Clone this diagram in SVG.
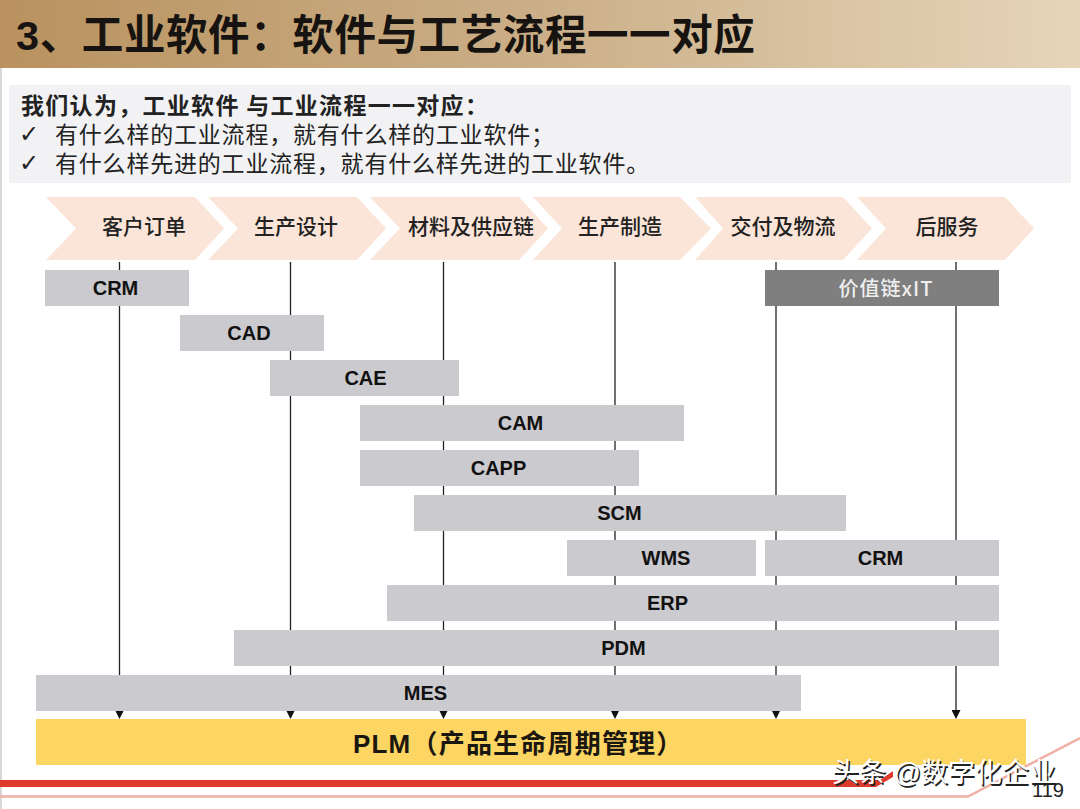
<svg xmlns="http://www.w3.org/2000/svg" width="1080" height="809" viewBox="0 0 1080 809">
<style>
.cjk{font-family:"Liberation Sans","Noto Sans CJK SC",sans-serif}
.bar{fill:#cbcace}
.chev{fill:#fbe5d8}
.bt{font-family:"Liberation Sans","Noto Sans CJK SC",sans-serif;font-size:20px;font-weight:700;fill:#111;text-anchor:middle}
.ct{font-family:"Noto Sans CJK SC",sans-serif;font-size:21px;font-weight:500;fill:#222;text-anchor:middle}
.ln{stroke:#222;stroke-width:1.3;fill:none;marker-end:url(#ah)}
.p{font-family:"Noto Sans CJK SC",sans-serif;font-size:23px;letter-spacing:0.8px;fill:#222}
.ck{font-family:"DejaVu Sans",sans-serif;font-size:24px;fill:#222}
</style>
<defs>
<linearGradient id="hg" x1="0" x2="1" y1="0" y2="0"><stop offset="0" stop-color="#b9925f"/><stop offset="0.5" stop-color="#cbaf88"/><stop offset="1" stop-color="#e6d5b9"/></linearGradient>
<marker id="ah" markerUnits="userSpaceOnUse" markerWidth="9" markerHeight="9" refX="4.500" refY="6" orient="0" viewBox="0 0 9 9"><path d="M0 0H9L4.500 9Z" fill="#111"/></marker>
</defs>
<rect width="1080" height="809" fill="#fff"/>
<rect x="0" y="0" width="2" height="809" fill="#d8d8d8"/>
<g id="header">
<rect x="0" y="0" width="1080" height="68" fill="url(#hg)"/>
<text x="16" y="50" class="cjk" font-size="41.500" font-weight="700" letter-spacing="0.6" fill="#161310">3、工业软件：软件与工艺流程一一对应</text>
</g>
<g id="intro">
<rect x="9" y="85" width="1062" height="98" fill="#f2f2f4"/>
<text x="21" y="114" class="p" style="font-weight:700;letter-spacing:1.3px">我们认为，工业软件 与工业流程一一对应：</text>
<text x="19" y="142" class="ck">✓</text><text x="55" y="143" class="p">有什么样的工业流程，就有什么样的工业软件；</text>
<text x="19" y="171" class="ck">✓</text><text x="55" y="172" class="p">有什么样先进的工业流程，就有什么样先进的工业软件。</text>
</g>
<g id="connectors">
<path class="ln" d="M119.500 262V716"/>
<path class="ln" d="M290.500 262V716"/>
<path class="ln" d="M443.500 262V716"/>
<path class="ln" d="M615 262V716"/>
<path class="ln" d="M776 262V716"/>
<path class="ln" d="M956 262V716"/>
</g>
<g id="step-1"><path class="chev" d="M46 197H195L224 228.500L195 260H46L76 228.500Z"/><text class="ct" x="144" y="234">客户订单</text></g>
<g id="step-2"><path class="chev" d="M208 197H357L386 228.500L357 260H208L238 228.500Z"/><text class="ct" x="296" y="234">生产设计</text></g>
<g id="step-3"><path class="chev" d="M370 197H519L548 228.500L519 260H370L400 228.500Z"/><text class="ct" x="471" y="234">材料及供应链</text></g>
<g id="step-4"><path class="chev" d="M533 197H680L711 228.500L680 260H533L562 228.500Z"/><text class="ct" x="620" y="234">生产制造</text></g>
<g id="step-5"><path class="chev" d="M695 197H843L872 228.500L843 260H695L723 228.500Z"/><text class="ct" x="783" y="234">交付及物流</text></g>
<g id="step-6"><path class="chev" d="M857 197H1005L1034 228.500L1005 260H857L886 228.500Z"/><text class="ct" x="947" y="234">后服务</text></g>
<g id="crm-1"><rect class="bar" x="45" y="270" width="144" height="36"/><text class="bt" x="115.500" y="295">CRM</text></g>
<g id="value-it"><rect x="765" y="270" width="234" height="36" fill="#7f7f7f"/><text class="ct" x="886" y="296" style="fill:#eee;font-size:20px;letter-spacing:1px">价值链xIT</text></g>
<g id="cad"><rect class="bar" x="180" y="315" width="144" height="36"/><text class="bt" x="249" y="340">CAD</text></g>
<g id="cae"><rect class="bar" x="270" y="360" width="189" height="36"/><text class="bt" x="365.500" y="385">CAE</text></g>
<g id="cam"><rect class="bar" x="360" y="405" width="324" height="36"/><text class="bt" x="520.500" y="430">CAM</text></g>
<g id="capp"><rect class="bar" x="360" y="450" width="279" height="36"/><text class="bt" x="498.500" y="475">CAPP</text></g>
<g id="scm"><rect class="bar" x="414" y="495" width="432" height="36"/><text class="bt" x="619.500" y="520">SCM</text></g>
<g id="wms"><rect class="bar" x="567" y="540" width="189" height="36"/><text class="bt" x="666" y="565">WMS</text></g>
<g id="crm-2"><rect class="bar" x="765" y="540" width="234" height="36"/><text class="bt" x="880.500" y="565">CRM</text></g>
<g id="erp"><rect class="bar" x="387" y="585" width="612" height="36"/><text class="bt" x="667.500" y="610">ERP</text></g>
<g id="pdm"><rect class="bar" x="234" y="630" width="765" height="36"/><text class="bt" x="623.500" y="655">PDM</text></g>
<g id="mes"><rect class="bar" x="36" y="675" width="765" height="36"/><text class="bt" x="425.500" y="700">MES</text></g>
<g id="plm"><rect x="36" y="719" width="990" height="46" fill="#fdd562"/><text x="353" y="753" class="cjk" font-size="26" font-weight="700" letter-spacing="1.2" fill="#1a1610">PLM（产品生命周期管理）</text></g>
<g id="footer">
<path d="M0 780H880L893 771V777L876 787H0Z" fill="#de3a2c"/>
<path d="M0 796.500H968L1080 738" fill="none" stroke="#f0b0a4" stroke-width="2.500"/>
<text x="1032" y="797" font-family="Liberation Sans,sans-serif" font-size="21" fill="#222" textLength="32" lengthAdjust="spacingAndGlyphs">119</text>
<text x="832" y="782" class="cjk" font-size="27" fill="#222" transform="translate(1.500 1.500)">头条 @数字化企业</text>
<text x="832" y="782" class="cjk" font-size="27" fill="#fff">头条 @数字化企业</text>
</g>
</svg>
